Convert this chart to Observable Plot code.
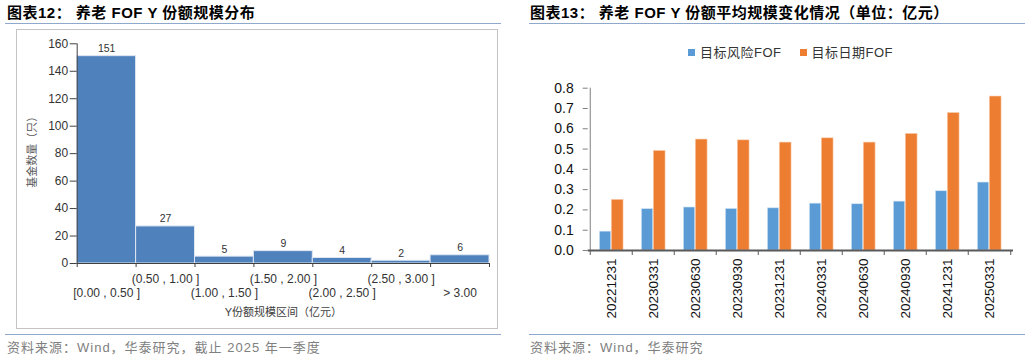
<!DOCTYPE html>
<html>
<head>
<meta charset="utf-8">
<script src="https://cdn.jsdelivr.net/npm/d3@7"></script>
<script src="https://cdn.jsdelivr.net/npm/@observablehq/plot@0.6"></script>
<style>
  html, body { margin: 0; padding: 0; background: #fff; }
  #root { position: relative; width: 1030px; height: 361px; overflow: hidden; background: #fff;
          font-family: "Liberation Sans", "Noto Sans CJK SC", sans-serif; }
  .abs { position: absolute; }
  .title { font-size: 15px; font-weight: bold; color: #000; line-height: 18px; letter-spacing: 0.5px; white-space: nowrap; }
  .hline { height: 0; border-top: 1.5px solid #8EA9CC; }
  .source { font-size: 13px; color: #808080; line-height: 16px; letter-spacing: 1px; white-space: nowrap; }
  .legend { font-size: 13px; color: #333; line-height: 16px; letter-spacing: 0.5px; white-space: nowrap; }
  .sw { display: inline-block; width: 7px; height: 7px; }
</style>
</head>
<body>
<div id="root">
  <div class="abs title" style="left:7px;top:4px">图表12： 养老 FOF Y 份额规模分布</div>
  <div class="abs hline" style="left:5px;width:496px;top:22.5px"></div>
  <div class="abs" style="left:16px;top:29px;width:482px;height:300px;border:1px solid #c4c4c4;box-sizing:border-box"></div>
  <div class="abs" id="left" style="left:16px;top:29px"></div>
  <div class="abs hline" style="left:5px;width:496px;top:334px"></div>
  <div class="abs source" style="left:7px;top:340px">资料来源：Wind，华泰研究，截止 2025 年一季度</div>

  <div class="abs title" style="left:530px;top:4px">图表13： 养老 FOF Y 份额平均规模变化情况（单位：亿元）</div>
  <div class="abs hline" style="left:529px;width:496px;top:22.5px"></div>
  <div class="abs legend" id="legend" style="left:688px;top:44px"></div>
  <div class="abs" id="right" style="left:515px;top:70px"></div>
  <div class="abs hline" style="left:529px;width:496px;top:334px"></div>
  <div class="abs source" style="left:530px;top:340px">资料来源：Wind，华泰研究</div>
</div>
<script>
// ---------- Data: left chart (histogram) ----------
const binLabels = ["[0.00 , 0.50 ]", "(0.50 , 1.00 ]", "(1.00 , 1.50 ]", "(1.50 , 2.00 ]", "(2.00 , 2.50 ]", "(2.50 , 3.00 ]", "> 3.00"];
const binCounts = [151, 27, 5, 9, 4, 2, 6];
const leftYTicks = [0, 20, 40, 60, 80, 100, 120, 140, 160];
const leftYLabel = "基金数量（只）";
const leftXLabel = "Y份额规模区间（亿元）";

// ---------- Data: right chart (grouped bars) ----------
const dates = ["20221231", "20230331", "20230630", "20230930", "20231231", "20240331", "20240630", "20240930", "20241231", "20250331"];
const riskFOF = [0.093, 0.204, 0.212, 0.205, 0.208, 0.231, 0.228, 0.241, 0.292, 0.335];
const dateFOF = [0.250, 0.491, 0.547, 0.543, 0.532, 0.553, 0.532, 0.575, 0.678, 0.759];
const seriesNames = ["目标风险FOF", "目标日期FOF"];
const seriesColors = ["#5B9BD5", "#ED7D31"];
const rightYTicks = [0, 0.1, 0.2, 0.3, 0.4, 0.5, 0.6, 0.7, 0.8];

const fontFamily = '"Liberation Sans", "Noto Sans CJK SC", sans-serif';

// ---------- Left chart ----------
const bins = binLabels.map((label, i) => ({label, count: binCounts[i], i}));
const left = Plot.plot({
  width: 482, height: 300,
  marginLeft: 60.7, marginRight: 9, marginTop: 14.3, marginBottom: 66,
  x: {type: "linear", domain: [0, bins.length], axis: null, label: null},
  y: {domain: [0, 160], axis: null, label: null},
  style: {fontFamily, background: "transparent", overflow: "visible", color: "#333"},
  marks: [
    Plot.rectY(bins, {x1: "i", x2: d => d.i + 1, y1: 0, y2: "count", fill: "#4F81BD", stroke: "#dfe7f2", strokeWidth: 1}),
    Plot.ruleY([0], {stroke: "#404040"}),
    Plot.ruleX([0], {stroke: "#404040"}),
    Plot.axisY({ticks: leftYTicks, label: null, tickSize: 7, tickPadding: 2, fontSize: 12, stroke: "#404040", fill: "#333"}),
    Plot.axisX({ticks: d3.range(bins.length + 1), label: null, tickSize: 4, tickFormat: () => "", stroke: "#404040"}),
    Plot.text(bins, {x: d => d.i + 0.5, y: "count", text: d => String(d.count), dy: -7.5, fontSize: 10.5, fill: "#333"}),
    Plot.text(bins, {filter: d => d.i % 2 === 1, x: d => d.i + 0.5, y: 0, text: "label", dy: 16, fontSize: 12, fill: "#333"}),
    Plot.text(bins, {filter: d => d.i % 2 === 0, x: d => d.i + 0.5, y: 0, text: "label", dy: 29.7, fontSize: 12, fill: "#333"}),
    Plot.text([leftXLabel], {frameAnchor: "bottom", dy: 52, fontSize: 11, fill: "#404040", letterSpacing: "0.7px"}),
    Plot.text([leftYLabel], {frameAnchor: "left", rotate: -90, dx: -44.7, dy: 34, fontSize: 11, fill: "#595959", letterSpacing: "0.5px"})
  ]
});
document.getElementById("left").appendChild(left);

// ---------- Legend ----------
const legend = document.getElementById("legend");
legend.innerHTML = seriesNames.map((n, i) =>
  `<span style="display:inline-flex;align-items:center;margin-right:${i === 0 ? 18 : 0}px"><span class="sw" style="background:${seriesColors[i]};margin-right:5px"></span>${n}</span>`
).join("");

// ---------- Right chart ----------
const W = 515, ML = 72.7, MR = 17;
const step = (W - ML - MR) / dates.length;
const riskData = dates.map((date, i) => ({date, value: riskFOF[i]}));
const dateData = dates.map((date, i) => ({date, value: dateFOF[i]}));
const right = Plot.plot({
  width: W, height: 270,
  marginLeft: ML, marginRight: MR, marginTop: 17.7, marginBottom: 90,
  x: {type: "band", domain: dates, padding: 0, axis: null, label: null},
  y: {domain: [0, 0.8], axis: null, label: null},
  style: {fontFamily, background: "transparent", overflow: "visible", color: "#222"},
  marks: [
    Plot.barY(riskData, {x: "date", y: "value", fill: seriesColors[0], stroke: "#d6e6f5", strokeWidth: 0.6, insetLeft: 0.22 * step, insetRight: 0.5 * step}),
    Plot.barY(dateData, {x: "date", y: "value", fill: seriesColors[1], stroke: "#f8d3b8", strokeWidth: 0.6, insetLeft: 0.5 * step, insetRight: 0.21 * step}),
    Plot.ruleX(dates.slice(0, 1), {dx: -step / 2, stroke: "#7f7f7f"}),
    Plot.ruleY([0], {stroke: "#595959", strokeWidth: 2}),
    Plot.axisY({ticks: rightYTicks, label: null, tickFormat: d3.format(".1f"), tickSize: 5, tickPadding: 9.5, fontSize: 14, stroke: "#7f7f7f", fill: "#111"}),
    Plot.axisX({ticks: dates, label: null, tickSize: 5, tickFormat: () => "", dx: -step / 2, stroke: "#595959"}),
    Plot.axisX({ticks: dates.slice(-1), label: null, tickSize: 5, tickFormat: () => "", dx: step / 2, stroke: "#595959"}),
    Plot.axisX({ticks: dates, label: null, tickSize: 0, tickPadding: 8, tickRotate: -90, fontSize: 13.5, fill: "#111"})
  ]
});
document.getElementById("right").appendChild(right);
</script>
</body>
</html>
